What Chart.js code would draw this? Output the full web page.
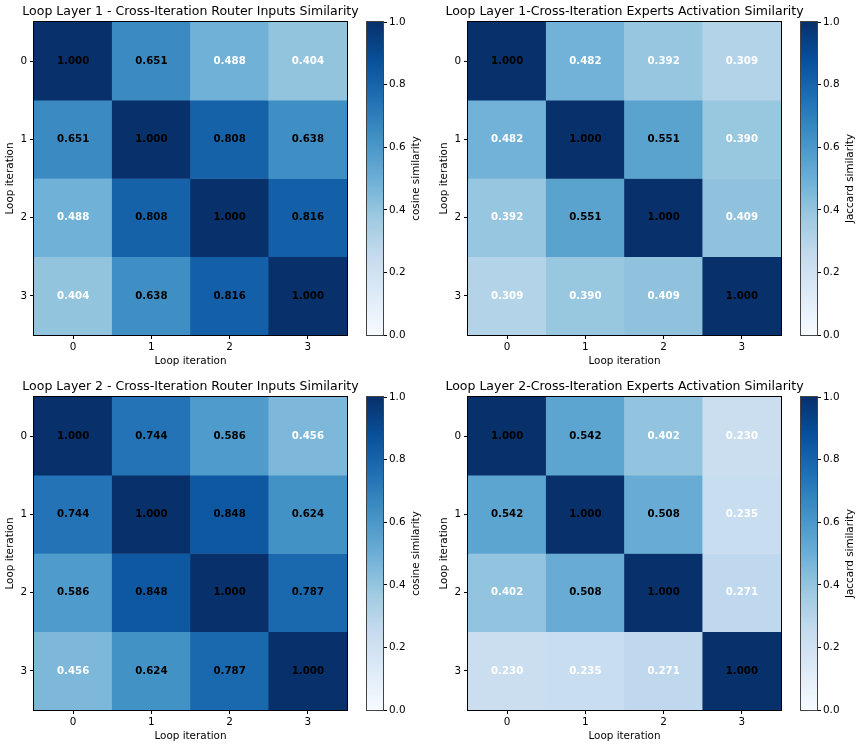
<!DOCTYPE html>
<html>
<head>
<meta charset="utf-8">
<script src="https://cdn.jsdelivr.net/npm/chart.js@4.4.0/dist/chart.umd.min.js"></script>
<style>
  html, body { margin: 0; padding: 0; background: #fff; overflow: hidden; }
  #fig { position: relative; width: 860px; height: 749px; }
  canvas { position: absolute; }
</style>
</head>
<body>
<div id="fig">
  <canvas id="hm1" width="430" height="375" style="left:0px;top:0px"></canvas>
  <canvas id="cb1" width="70" height="375" style="left:360px;top:0px"></canvas>
  <canvas id="hm2" width="430" height="375" style="left:434px;top:0px"></canvas>
  <canvas id="cb2" width="70" height="375" style="left:794px;top:0px"></canvas>
  <canvas id="hm3" width="430" height="375" style="left:0px;top:375px"></canvas>
  <canvas id="cb3" width="70" height="375" style="left:360px;top:375px"></canvas>
  <canvas id="hm4" width="430" height="375" style="left:434px;top:375px"></canvas>
  <canvas id="cb4" width="70" height="375" style="left:794px;top:375px"></canvas>
</div>
<script>
var iterations = ['0', '1', '2', '3'];
var cbarTicks = [0, 0.2, 0.4, 0.6, 0.8, 1.0];

var layer1Router = [
    [1.000, 0.651, 0.488, 0.404],
    [0.651, 1.000, 0.808, 0.638],
    [0.488, 0.808, 1.000, 0.816],
    [0.404, 0.638, 0.816, 1.000]
];
var layer1Experts = [
    [1.000, 0.482, 0.392, 0.309],
    [0.482, 1.000, 0.551, 0.390],
    [0.392, 0.551, 1.000, 0.409],
    [0.309, 0.390, 0.409, 1.000]
];
var layer2Router = [
    [1.000, 0.744, 0.586, 0.456],
    [0.744, 1.000, 0.848, 0.624],
    [0.586, 0.848, 1.000, 0.787],
    [0.456, 0.624, 0.787, 1.000]
];
var layer2Experts = [
    [1.000, 0.542, 0.402, 0.230],
    [0.542, 1.000, 0.508, 0.235],
    [0.402, 0.508, 1.000, 0.271],
    [0.230, 0.235, 0.271, 1.000]
];

// matplotlib "Blues" colormap stops
const BLUES = [
    [247, 251, 255], [222, 235, 247], [198, 219, 239], [158, 202, 225],
    [107, 174, 214], [66, 146, 198], [33, 113, 181], [8, 81, 156], [8, 48, 107]
];

const TICK_SIZE = 10.4;

Chart.defaults.font.family = "'DejaVu Sans', sans-serif";
Chart.defaults.font.size = TICK_SIZE;
Chart.defaults.color = '#000';

function blues(v) {
    var pos = Math.max(0, Math.min(1, v)) * 8;
    var i = Math.min(Math.floor(pos), 7);
    var t = pos - i;
    var a = BLUES[i], b = BLUES[i + 1];
    var c = [0, 1, 2].map(function (k) { return Math.round(a[k] + (b[k] - a[k]) * t); });
    return 'rgb(' + c[0] + ',' + c[1] + ',' + c[2] + ')';
}

// black frame round the plot area
var framePlugin = {
    id: 'frame',
    afterDraw: function (chart, args, opts) {
        var ca = chart.chartArea;
        var ctx = chart.ctx;
        ctx.save();
        ctx.strokeStyle = opts.color || '#000';
        ctx.lineWidth = 1;
        ctx.strokeRect(Math.round(ca.left) - 0.5, Math.round(ca.top) - 0.5,
            Math.round(ca.right - ca.left) + 1, Math.round(ca.bottom - ca.top) + 1);
        ctx.restore();
    }
};

// title centred over the plot area (the built-in one squeezes long text)
var panelTitlePlugin = {
    id: 'panelTitle',
    afterDraw: function (chart, args, opts) {
        var ca = chart.chartArea;
        var ctx = chart.ctx;
        ctx.save();
        ctx.font = "12.5px 'DejaVu Sans', sans-serif";
        ctx.fillStyle = '#000';
        ctx.textAlign = 'center';
        ctx.textBaseline = 'middle';
        ctx.fillText(opts.text, (ca.left + ca.right) / 2, ca.top - 10);
        ctx.restore();
    }
};

// value written in each cell
var cellTextPlugin = {
    id: 'cellText',
    afterDatasetsDraw: function (chart) {
        var ctx = chart.ctx;
        var matrix = chart.options.plugins.cellText.matrix;
        ctx.save();
        ctx.font = "bold 10.2px 'DejaVu Sans', sans-serif";
        ctx.textAlign = 'center';
        ctx.textBaseline = 'middle';
        chart.data.datasets.forEach(function (ds, r) {
            chart.getDatasetMeta(r).data.forEach(function (bar, c) {
                var v = matrix[r][c];
                var p = bar.getCenterPoint();
                ctx.fillStyle = v > 0.5 ? '#000' : '#fff';
                ctx.fillText(v.toFixed(3), p.x, p.y);
            });
        });
        ctx.restore();
    }
};

// colorbar label, reading bottom to top
var cbarLabelPlugin = {
    id: 'cbarLabel',
    afterDraw: function (chart, args, opts) {
        var ca = chart.chartArea;
        var ctx = chart.ctx;
        ctx.save();
        ctx.font = TICK_SIZE + "px 'DejaVu Sans', sans-serif";
        ctx.fillStyle = '#000';
        ctx.textAlign = 'center';
        ctx.textBaseline = 'middle';
        ctx.translate(opts.x, (ca.top + ca.bottom) / 2);
        ctx.rotate(-Math.PI / 2);
        ctx.fillText(opts.text, 0, 0);
        ctx.restore();
    }
};

function makeHeatmap(id, title, matrix) {
    var datasets = matrix.map(function (row, r) {
        return {
            label: 'row ' + r,
            data: row.map(function () { return [r - 0.5, r + 0.5]; }),
            backgroundColor: row.map(function (v) { return blues(v); }),
            borderWidth: 0,
            barPercentage: 1,
            categoryPercentage: 1,
            grouped: false
        };
    });
    return new Chart(document.getElementById(id), {
        type: 'bar',
        data: { labels: iterations, datasets: datasets },
        options: {
            responsive: false,
            animation: false,
            layout: { padding: { left: 0, right: 83, top: 22, bottom: 0 } },
            scales: {
                x: {
                    offset: true,
                    grid: { offset: false, drawOnChartArea: false, drawTicks: true, tickLength: 4, color: '#000' },
                    border: { display: true, color: '#000' },
                    ticks: { padding: 2, font: { size: TICK_SIZE }, color: '#000' },
                    title: { display: true, text: 'Loop iteration', font: { size: TICK_SIZE }, padding: { top: 0, bottom: 7.8 } },
                    afterFit: function (scale) { scale.height = 40; }
                },
                y: {
                    type: 'linear',
                    min: -0.5,
                    max: 3.5,
                    reverse: true,
                    afterBuildTicks: function (scale) {
                        scale.ticks = iterations.map(function (t, i) { return { value: i }; });
                    },
                    grid: { drawOnChartArea: false, drawTicks: true, tickLength: 4, color: '#000' },
                    border: { display: true, color: '#000' },
                    ticks: {
                        padding: 3,
                        font: { size: TICK_SIZE },
                        color: '#000',
                        callback: function (v) { return iterations[v]; }
                    },
                    title: { display: true, text: 'Loop iteration', font: { size: TICK_SIZE }, padding: { top: 3.8, bottom: 0 } },
                    afterFit: function (scale) { scale.width = 34; }
                }
            },
            plugins: {
                legend: { display: false },
                tooltip: { enabled: false },
                title: { display: false },
                panelTitle: { text: title },
                cellText: { matrix: matrix },
                frame: { color: '#000' }
            }
        },
        plugins: [cellTextPlugin, framePlugin, panelTitlePlugin]
    });
}

function makeColorbar(id, label) {
    return new Chart(document.getElementById(id), {
        type: 'bar',
        data: {
            labels: [''],
            datasets: [{
                data: [[0, 1]],
                borderWidth: 0,
                barPercentage: 1,
                categoryPercentage: 1,
                backgroundColor: function (context) {
                    var ca = context.chart.chartArea;
                    if (!ca) return blues(0.5);
                    var g = context.chart.ctx.createLinearGradient(0, ca.bottom, 0, ca.top);
                    BLUES.forEach(function (c, i) {
                        g.addColorStop(i / 8, 'rgb(' + c.join(',') + ')');
                    });
                    return g;
                }
            }]
        },
        options: {
            responsive: false,
            animation: false,
            layout: { padding: { left: 7, right: 0, top: 22, bottom: 40 } },
            scales: {
                x: { display: false, offset: true },
                y: {
                    position: 'right',
                    min: 0,
                    max: 1,
                    afterBuildTicks: function (scale) {
                        scale.ticks = cbarTicks.map(function (v) { return { value: v }; });
                    },
                    grid: { drawOnChartArea: false, drawTicks: true, tickLength: 4, color: '#000' },
                    border: { display: false },
                    ticks: {
                        padding: 2,
                        font: { size: TICK_SIZE },
                        color: '#000',
                        callback: function (v) { return v.toFixed(1); }
                    },
                    afterFit: function (scale) { scale.width = 47; }
                }
            },
            plugins: {
                legend: { display: false },
                tooltip: { enabled: false },
                frame: { color: '#444' },
                cbarLabel: { text: label, x: 56.7 }
            }
        },
        plugins: [framePlugin, cbarLabelPlugin]
    });
}

makeHeatmap('hm1', 'Loop Layer 1 - Cross-Iteration Router Inputs Similarity', layer1Router);
makeColorbar('cb1', 'cosine similarity');
makeHeatmap('hm2', 'Loop Layer 1-Cross-Iteration Experts Activation Similarity', layer1Experts);
makeColorbar('cb2', 'Jaccard similarity');
makeHeatmap('hm3', 'Loop Layer 2 - Cross-Iteration Router Inputs Similarity', layer2Router);
makeColorbar('cb3', 'cosine similarity');
makeHeatmap('hm4', 'Loop Layer 2-Cross-Iteration Experts Activation Similarity', layer2Experts);
makeColorbar('cb4', 'Jaccard similarity');
</script>
</body>
</html>
